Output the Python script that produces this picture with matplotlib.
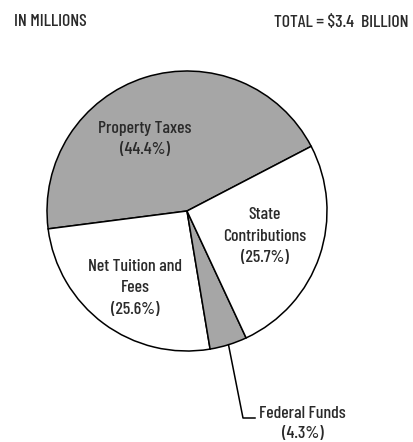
import numpy as np
import matplotlib.pyplot as plt

# data
labels = ["Property Taxes", "Net Tuition and\nFees", "Federal Funds", "State\nContributions"]
shares = [44.4, 25.6, 4.3, 25.7]
colors = ["#a6a6a6", "#ffffff", "#a6a6a6", "#ffffff"]

plt.rcParams["font.family"] = ["Barlow Condensed", "DejaVu Sans"]
plt.rcParams["font.weight"] = 500

W, H = 414, 442
cx, cy, R = 187, 211, 140


def px(x, y):
    # pixel (from top-left) -> pie data coords
    return (x - cx) / R, (cy - y) / R


fig = plt.figure(figsize=(W / 100, H / 100), dpi=100)
ax = fig.add_axes([(cx - R) / W, (H - cy - R) / H, 2 * R / W, 2 * R / H])
wedges, _ = ax.pie(shares, colors=colors, startangle=27.5, counterclock=True,
                   wedgeprops=dict(edgecolor="black", linewidth=1.1))
ax.set_xlim(-1, 1)
ax.set_ylim(-1, 1)
ax.set_aspect("equal")
ax.axis("off")

fs = 12.8
ink = "#2a2a2a"
txt = dict(fontsize=fs, color=ink, ha="center", va="center", linespacing=1.55)

x, y = px(145, 139)
ax.text(x, y, f"{labels[0]}\n({shares[0]}%)", **txt)
x, y = px(135, 288)
ax.text(x, y, f"{labels[1]}\n({shares[1]}%)", **txt)
x, y = px(265, 236)
ax.text(x, y, f"{labels[3]}\n({shares[3]}%)", **txt)

# federal funds callout
w = wedges[2]
mid = np.deg2rad((w.theta1 + w.theta2) / 2)
x0, y0 = np.cos(mid), np.sin(mid)
x1, y1 = px(243, 418)
x2, y2 = px(255, 418)
ax.plot([x0, x1, x2], [y0, y1, y2], color="black", lw=1.1, clip_on=False)
x, y = px(259, 413)
ax.text(x, y, labels[2], fontsize=fs, color=ink, ha="left", va="center", clip_on=False)
x, y = px(303, 434)
ax.text(x, y, f"({shares[2]}%)", fontsize=fs, color=ink, ha="center", va="center", clip_on=False)

fig.text(14 / W, 1 - 22 / H, "IN MILLIONS", fontsize=fs, color=ink, ha="left", va="center")
fig.text(409 / W, 1 - 22 / H, "TOTAL = $3.4  BILLION", fontsize=fs, color=ink, ha="right", va="center")

fig.savefig("out.png", dpi=100)
